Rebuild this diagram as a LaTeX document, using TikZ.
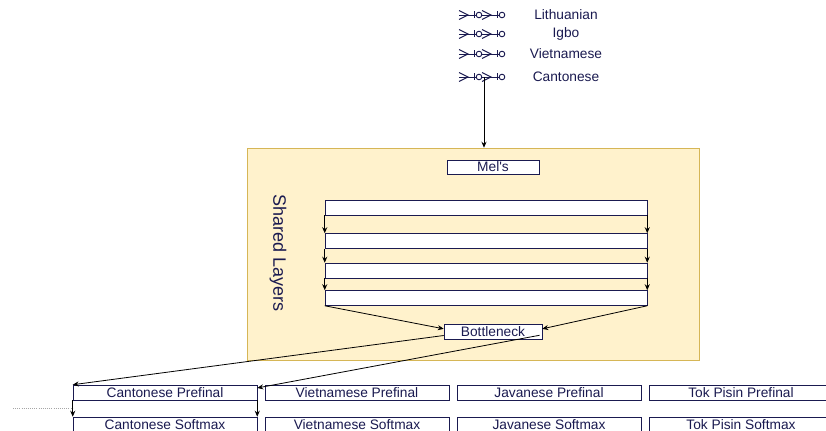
\documentclass[tikz,border=0pt]{standalone}
\usepackage{fontspec}
\setmainfont{Liberation Sans}
\usetikzlibrary{arrows.meta}
\definecolor{navy}{RGB}{26,26,80}
\definecolor{sharedfill}{RGB}{255,242,204}
\definecolor{shareddraw}{RGB}{214,182,86}
\tikzset{
  labelfont/.style={text=navy,font=\fontsize{10.3}{12}\selectfont},
  layerbox/.style={draw=navy,fill=white,inner sep=0pt,minimum width=241.5pt,minimum height=11.25pt},
  headbox/.style={draw=navy,fill=white,inner sep=0pt,minimum width=138pt,minimum height=11.25pt,labelfont},
  flow/.style={-{Stealth[length=4.5pt,width=3.8pt]},black,line width=0.6pt},
  footline/.style={navy,line width=0.7pt},
}
\begin{document}
\begin{tikzpicture}[x=0.75pt,y=-0.75pt]
  \useasboundingbox (0,0) rectangle (826,431);

  % language inputs
  \foreach \y/\lang in {15/Lithuanian,34/Igbo,54/Vietnamese,77/Cantonese}{
    \foreach \o in {0,23}{
      \draw[footline] (459+\o,\y-4.5) -- (468+\o,\y) -- (459+\o,\y+4.5);
      \draw[footline] (459+\o,\y) -- (476+\o,\y);
      \draw[footline] (474+\o,\y-3.5) -- (474+\o,\y+3.5);
      \draw[footline] (479+\o,\y) circle[radius=2.1pt];
    }
    \node[labelfont] (\lang) at (566,\y) {\lang};
  }
  \coordinate (cantfoot) at (484,77);

  % shared block
  \node[draw=shareddraw,fill=sharedfill,inner sep=0pt,
        minimum width=339pt,minimum height=159pt] (shared) at (473,254) {};
  \node[rotate=-90,text=navy,font=\fontsize{13.5}{16}\selectfont] (sharedlabel) at (278,253) {Shared Layers};
  \node[layerbox,labelfont,minimum width=69pt,minimum height=10.5pt] (mels) at (493,167) {Mel\textquotesingle s};
  \foreach \i/\y in {1/207.5,2/241,3/270.5,4/298}
    \node[layerbox] (layer\i) at (486,\y) {};
  \node[layerbox,labelfont,minimum width=73.5pt] (bottleneck) at (493,331.5) {Bottleneck};

  % heads
  \foreach \i/\lang/\x in {cant/Cantonese/165,viet/Vietnamese/357,java/Javanese/549,tok/Tok Pisin/741}{
    \node[headbox] (\i-pre) at (\x,392.5) {\lang\ Prefinal};
    \node[headbox] (\i-soft) at (\x,424.5) {\lang\ Softmax};
  }
  \coordinate (dotstart) at (13,408);

  % connections
  \draw[flow] (cantfoot) -- (cantfoot |- shared.north);
  \foreach \a/\b in {1/2,2/3,3/4}{
    \draw[flow] (layer\a.south west) -- (layer\b.north west);
    \draw[flow] (layer\a.south east) -- (layer\b.north east);
  }
  \draw[flow] (layer4.south west) -- ([yshift=2pt]bottleneck.west);
  \draw[flow] (layer4.south east) -- ([yshift=2pt]bottleneck.east);
  \draw[flow] ([yshift=-3pt]bottleneck.west) -- (cant-pre.north west);
  \draw[flow] ([xshift=-2pt,yshift=3pt]bottleneck.south east) -- ([yshift=3.4pt]cant-pre.east);
  \draw[flow] (cant-pre.south west) -- (cant-soft.north west);
  \draw[flow] (cant-pre.south east) -- (cant-soft.north east);
  \draw[gray!70,densely dotted,line width=0.6pt] (dotstart) -- (dotstart -| cant-pre.west);
\end{tikzpicture}
\end{document}
